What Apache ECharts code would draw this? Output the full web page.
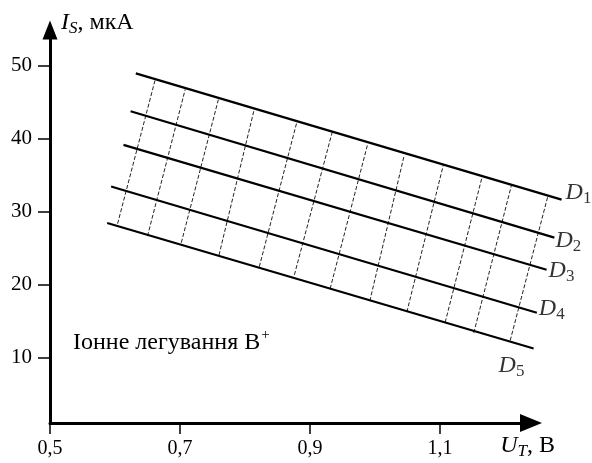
<!DOCTYPE html>
<html>
<head>
<meta charset="utf-8">
<script src="https://cdn.jsdelivr.net/npm/echarts@6/dist/echarts.min.js"></script>
<style>
html,body{margin:0;padding:0;background:#fff;}
#chart{width:592px;height:463px;}
</style>
</head>
<body>
<div id="chart"></div>
<script>
// ---- data ----
const lineSubs = ['1', '2', '3', '4', '5'];
const startX = [0.632, 0.624, 0.613, 0.594, 0.588];
const startY = [48.9, 43.7, 39.1, 33.4, 28.4];
const endX = [1.287, 1.276, 1.264, 1.249, 1.244];
const endY = [31.6, 26.4, 22.0, 16.1, 11.2];

const crossTopX = [0.662, 0.708, 0.759, 0.814, 0.880, 0.934, 0.989, 1.045, 1.105, 1.165, 1.210, 1.266];
const crossTopY = [48.1, 46.7, 45.3, 43.9, 42.3, 40.8, 39.3, 37.7, 36.3, 34.8, 33.6, 32.1];
const crossBotX = [0.604, 0.650, 0.702, 0.760, 0.822, 0.876, 0.931, 0.992, 1.049, 1.108, 1.152, 1.208];
const crossBotY = [28.3, 26.6, 25.7, 24.0, 22.4, 21.3, 19.4, 17.7, 16.2, 14.8, 13.35, 12.3];

const xTicks = [0.5, 0.7, 0.9, 1.1];
const yTicks = [10, 20, 30, 40, 50];

// ---- layout / style ----
const FONT = '"Liberation Serif", "Times New Roman", serif';
const labelOffsets = [[4, -7], [1, 3], [2, 1], [2, -4], [-35, 17]];
// both grids share the same scale: 650 px per 1 V, 7.3 px per 1 µA
const X_MIN = 0.5, X_AXIS_MAX = 1.24, X_PLOT_MAX = 1.3;
const Y_MIN = 1, Y_MAX = 54.84;

const chart = echarts.init(document.getElementById('chart'), null, {renderer: 'canvas'});

const dRich = {
  d: {fontFamily: FONT, fontSize: 24, fontStyle: 'italic', color: '#000', lineHeight: 28},
  s: {fontFamily: FONT, fontSize: 17, color: '#000', padding: [12, 0, 0, 0]}
};

const series = lineSubs.map((sub, i) => ({
  type: 'line',
  xAxisIndex: 1,
  yAxisIndex: 1,
  data: [[startX[i], startY[i]], [endX[i], endY[i]]],
  symbol: 'none',
  clip: false,
  lineStyle: {color: '#000', width: 2.2},
  z: 3
}));

series.push({
  type: 'scatter',
  xAxisIndex: 1,
  yAxisIndex: 1,
  clip: false,
  symbol: 'circle',
  symbolSize: 0,
  itemStyle: {color: 'rgba(0,0,0,0)'},
  data: endX.map((x, i) => [x, endY[i]]),
  label: {
    show: true,
    position: 'right',
    distance: 0,
    formatter: p => '{d|D}{s|' + lineSubs[p.dataIndex] + '}',
    rich: dRich
  },
  labelLayout: p => ({
    dx: labelOffsets[p.dataIndex][0],
    dy: labelOffsets[p.dataIndex][1],
    hideOverlap: false
  }),
  z: 4
});

series.push({
  type: 'lines',
  coordinateSystem: 'cartesian2d',
  xAxisIndex: 1,
  yAxisIndex: 1,
  clip: false,
  data: crossTopX.map((tx, i) => ({coords: [[crossBotX[i], crossBotY[i]], [tx, crossTopY[i]]]})),
  lineStyle: {color: '#222', width: 1, type: [4, 2], opacity: 1},
  z: 2
});

const hiddenAxis = {
  show: false,
  splitLine: {show: false},
  axisLine: {show: false},
  axisTick: {show: false},
  axisLabel: {show: false}
};

const option = {
  animation: false,
  backgroundColor: '#fff',
  grid: [
    {left: 50, top: 30, width: (X_AXIS_MAX - X_MIN) * 650, bottom: 40, containLabel: false},
    {left: 50, top: 30, width: (X_PLOT_MAX - X_MIN) * 650, bottom: 40, containLabel: false}
  ],
  xAxis: [{
    type: 'value',
    gridIndex: 0,
    min: X_MIN,
    max: X_AXIS_MAX,
    splitLine: {show: false},
    axisLine: {show: true, lineStyle: {color: '#000', width: 3}, symbol: ['none', 'triangle'], symbolSize: [18, 22]},
    axisTick: {show: true, length: 11, lineStyle: {color: '#000', width: 1.5}, customValues: xTicks},
    axisLabel: {
      customValues: xTicks,
      margin: 16,
      color: '#000',
      fontFamily: FONT,
      fontSize: 20,
      formatter: v => String(v).replace('.', ',')
    },
    name: '{i|U}{s|T}{t|, В}',
    nameLocation: 'end',
    nameGap: 24,
    nameTextStyle: {
      align: 'right',
      verticalAlign: 'top',
      padding: [8, 0, 0, 0],
      rich: {
        i: {fontFamily: FONT, fontSize: 24, fontStyle: 'italic', color: '#000', lineHeight: 28},
        s: {fontFamily: FONT, fontSize: 17, fontStyle: 'italic', color: '#000', padding: [12, 0, 0, 0]},
        t: {fontFamily: FONT, fontSize: 24, color: '#000', lineHeight: 28}
      }
    }
  }, Object.assign({type: 'value', gridIndex: 1, min: X_MIN, max: X_PLOT_MAX}, hiddenAxis)],
  yAxis: [{
    type: 'value',
    gridIndex: 0,
    min: Y_MIN,
    max: Y_MAX,
    splitLine: {show: false},
    axisLine: {show: true, lineStyle: {color: '#000', width: 3}, symbol: ['none', 'triangle'], symbolSize: [15, 19]},
    axisTick: {show: true, length: 12, lineStyle: {color: '#000', width: 1.5}, customValues: yTicks},
    axisLabel: {
      customValues: yTicks,
      margin: 18,
      color: '#000',
      fontFamily: FONT,
      fontSize: 21
    },
    name: '{i|I}{s|S}{t|, мкА}',
    nameLocation: 'end',
    nameGap: -7,
    nameTextStyle: {
      align: 'left',
      verticalAlign: 'bottom',
      padding: [0, 0, 0, 11],
      rich: {
        i: {fontFamily: FONT, fontSize: 24, fontStyle: 'italic', color: '#000', lineHeight: 28},
        s: {fontFamily: FONT, fontSize: 17, fontStyle: 'italic', color: '#000', padding: [12, 0, 0, 0]},
        t: {fontFamily: FONT, fontSize: 24, color: '#000', lineHeight: 28}
      }
    }
  }, Object.assign({type: 'value', gridIndex: 1, min: Y_MIN, max: Y_MAX}, hiddenAxis)],
  graphic: [{
    type: 'text',
    left: 73,
    top: 328,
    style: {
      text: '{a|Іонне легування B}{p|+}',
      rich: {
        a: {fontFamily: FONT, fontSize: 24, color: '#000', lineHeight: 28},
        p: {fontFamily: FONT, fontSize: 15, color: '#000', padding: [0, 0, 14, 1]}
      }
    }
  }],
  series: series
};

chart.setOption(option);
</script>
</body>
</html>
